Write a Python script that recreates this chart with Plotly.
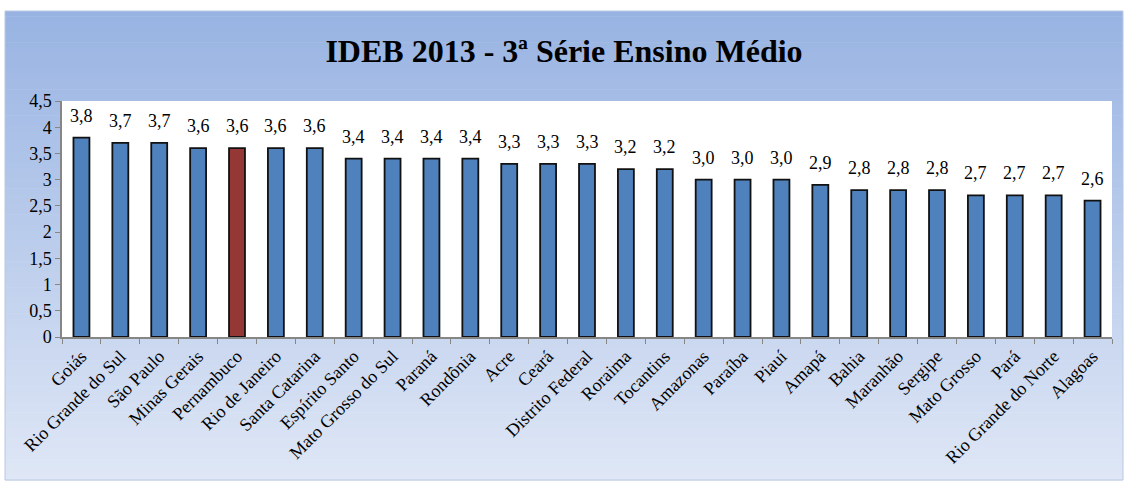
import plotly.graph_objects as go

states = ["Goiás", "Rio Grande do Sul", "São Paulo", "Minas Gerais", "Pernambuco",
          "Rio de Janeiro", "Santa Catarina", "Espírito Santo", "Mato Grosso do Sul",
          "Paraná", "Rondônia", "Acre", "Ceará", "Distrito Federal", "Roraima",
          "Tocantins", "Amazonas", "Paraíba", "Piauí", "Amapá", "Bahia", "Maranhão",
          "Sergipe", "Mato Grosso", "Pará", "Rio Grande do Norte", "Alagoas"]
ideb = [3.8, 3.7, 3.7, 3.6, 3.6, 3.6, 3.6, 3.4, 3.4, 3.4, 3.4, 3.3, 3.3, 3.3, 3.2,
        3.2, 3.0, 3.0, 3.0, 2.9, 2.8, 2.8, 2.8, 2.7, 2.7, 2.7, 2.6]
highlight = "Pernambuco"
y_ticks = [0, 0.5, 1, 1.5, 2, 2.5, 3, 3.5, 4, 4.5]

W, H = 1128, 484
L, R, T, B = 62, 16, 101, 147
pw, ph = W - L - R, H - T - B

def px(x):
    return (x - L) / pw

def py(y):
    return (H - B - y) / ph

FONT = "Liberation Serif"
colors = ["#953735" if s == highlight else "#4F81BD" for s in states]

fig = go.Figure()
fig.add_trace(go.Bar(
    x=states, y=ideb,
    marker=dict(color=colors, line=dict(color="#111111", width=1.8)),
    hoverinfo="x+y",
))

for s, v in zip(states, ideb):
    fig.add_annotation(x=s, y=v, text=f"{v:.1f}".replace(".", ","),
                       showarrow=False, yanchor="bottom", yshift=10,
                       font=dict(family=FONT, size=18, color="#000000"))

# gradient panel background
shapes = []
top_c = (152, 179, 226)
bot_c = (223, 231, 246)
y0p, y1p = 11, 480
N = 90
for i in range(N):
    a = y0p + (y1p - y0p) * i / N
    b = y0p + (y1p - y0p) * (i + 1) / N + 0.6
    t = (i + 0.5) / N
    c = tuple(round(top_c[k] + (bot_c[k] - top_c[k]) * t) for k in range(3))
    shapes.append(dict(type="rect", xref="paper", yref="paper", layer="below",
                       x0=px(5), x1=px(1123), y0=py(b), y1=py(a),
                       line=dict(width=0), fillcolor="rgb(%d,%d,%d)" % c))
shapes.append(dict(type="rect", xref="paper", yref="paper", layer="below",
                   x0=px(5), x1=px(1123), y0=py(480), y1=py(11),
                   line=dict(width=1, color="#B9C8E2"), fillcolor="rgba(0,0,0,0)"))
shapes.append(dict(type="rect", xref="paper", yref="paper", layer="below",
                   x0=0, x1=1, y0=0, y1=1, line=dict(width=0), fillcolor="#FFFFFF"))

fig.update_layout(
    width=W, height=H,
    margin=dict(l=L, r=R, t=T, b=B, autoexpand=False),
    paper_bgcolor="#FFFFFF", plot_bgcolor="#FFFFFF",
    separators=",.",
    bargap=0.59,
    showlegend=False,
    shapes=shapes,
    font=dict(family=FONT, size=18, color="#000000"),
    title=dict(text="<b>IDEB 2013 - 3ª Série Ensino Médio</b>",
               x=0.5, xref="container", xanchor="center",
               y=1 - 50.5 / H, yref="container", yanchor="middle",
               font=dict(family=FONT, size=32, color="#000000")),
    xaxis=dict(tickangle=-45, showline=True, linecolor="#868686", linewidth=1.5,
               ticks="outside", tickson="boundaries", ticklen=5, tickcolor="#868686",
               showgrid=False, tickfont=dict(family=FONT, size=18), fixedrange=True,
               automargin=False),
    yaxis=dict(range=[0, 4.5], tickvals=y_ticks, showline=True, linecolor="#868686",
               linewidth=1.5, ticks="outside", ticklen=5, tickcolor="#868686",
               showgrid=False, zeroline=False, tickfont=dict(family=FONT, size=18),
               fixedrange=True, automargin=False),
)

fig.write_html("out.html", config={"displayModeBar": False},
               post_script="document.body.style.margin='0';")
